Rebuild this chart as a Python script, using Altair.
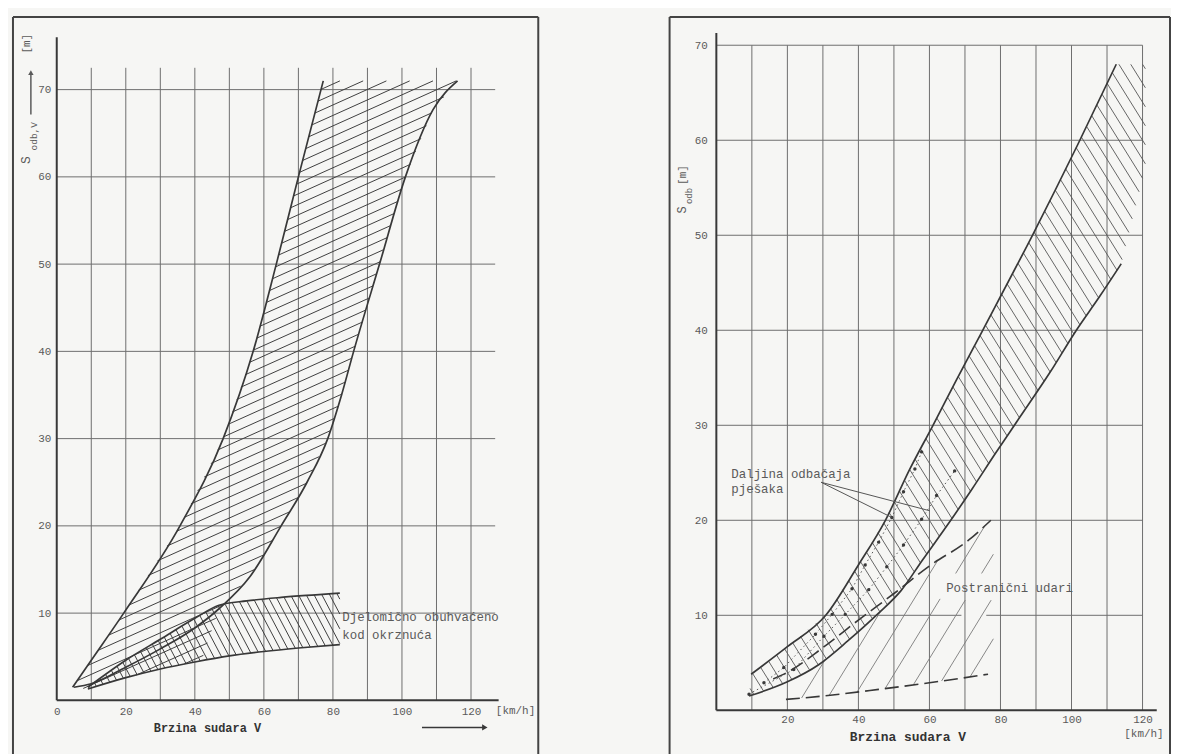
import altair as alt
import numpy as np
import pandas as pd

# ---------------- LEFT CHART DATA ----------------
L_grid_x = [10, 20, 30, 40, 50, 60, 70, 80, 90, 100, 110, 120]
L_grid_y = [10, 20, 30, 40, 50, 60, 70]
L_xticks = [0, 20, 40, 60, 80, 100, 120]
L_yticks = [10, 20, 30, 40, 50, 60, 70]

# main band (hatched "/"): steep left boundary and right boundary
L_band_left_x = [4.6, 10, 19.4, 35.7, 48.2, 56.9, 63.6, 70.0, 77.2]
L_band_left_y = [1.5, 4.6, 10.0, 20.0, 30.0, 40.0, 50.0, 60.0, 71.0]
L_band_right_x = [5, 10, 20, 30, 40, 47, 56, 65, 72.5, 78.5, 82.5, 86, 93.5, 101, 109, 116.1]
L_band_right_y = [1.5, 1.9, 3.8, 5.9, 8.3, 10.5, 14.2, 20, 25, 30, 35, 40, 50, 60, 67.7, 71]
L_band_top = 71.0
# lower limit of the "/" hatching (it covers the overlap with the lower band = cross-hatch)
L_cross_x = [5, 9, 20, 30, 42, 47]
L_cross_y = [1.5, 1.3, 2.6, 3.6, 4.6, 10.5]

# "Djelomicno obuhvaceno kod okrznuca" band (hatched "\")
L_part_top_x = [9, 20, 30, 40, 47, 55, 65, 75, 82]
L_part_top_y = [1.5, 4.6, 7.0, 9.4, 10.9, 11.4, 11.8, 12.1, 12.3]
L_part_bot_x = [9, 20, 30, 40, 50, 60, 70, 82]
L_part_bot_y = [1.3, 2.6, 3.6, 4.4, 5.1, 5.6, 6.0, 6.4]

# ---------------- RIGHT CHART DATA ----------------
R_grid_x = [10, 20, 30, 40, 50, 60, 70, 80, 90, 100, 110, 120]
R_grid_y = [20, 30, 40, 50, 60, 70]
R_grid10_x = [0, 76]          # the 10 m line is interrupted between 69 and 76 km/h
R_grid10_x2 = [69, 120]
R_xticks = [20, 40, 60, 80, 100, 120]
R_yticks = [10, 20, 30, 40, 50, 60, 70]

R_upper_x = [9.8, 20, 30.8, 40, 47.6, 54.5, 61, 67.5, 75, 89, 101.7, 112.6]
R_upper_y = [3.8, 6.7, 10.0, 15.3, 20.0, 25.4, 30.0, 34.7, 40.0, 50.0, 59.5, 68.0]
R_lower_x = [9.2, 20, 28.8, 37, 45.6, 52, 58, 66, 72, 78.5, 85, 94, 101, 108, 114]
R_lower_y = [1.5, 3.0, 4.8, 7.3, 10.2, 12.6, 15.8, 20.0, 23.3, 27.0, 30.6, 35.6, 39.8, 43.6, 47.0]
R_hatch_end_x = [114, 121]
R_hatch_end_y = [47.0, 57.5]

# "Postranicni udari" (dashed boundaries)
R_side_top_x = [16, 20, 30, 40, 50.4, 60, 71, 77.3]
R_side_top_y = [3.3, 4.0, 6.6, 9.5, 12.4, 15.2, 17.9, 20.0]
R_side_bot_x = [19.6, 30, 45.7, 60, 76.5]
R_side_bot_y = [1.15, 1.5, 2.2, 2.9, 3.8]

# "Daljina odbacaja pjesaka" dotted series
R_dot1_x = [13.4, 19.0, 27.9, 32.6, 38.2, 41.9, 45.7, 49.4, 52.7, 55.9, 57.8]
R_dot1_y = [2.9, 4.5, 8.0, 10.1, 12.8, 15.3, 17.7, 20.3, 23.0, 25.4, 27.2]
R_dot2_x = [9.2, 21.8, 30.3, 36.3, 42.9, 48.0, 52.7, 57.8, 62.0, 67.1]
R_dot2_y = [1.7, 4.3, 7.8, 10.1, 12.7, 15.1, 17.4, 20.1, 22.6, 25.2]
R_leader_x = [29.5, 29.5]
R_leader_y = [24.0, 24.0]
R_leader_x2 = [49.4, 60.1]
R_leader_y2 = [20.3, 21.0]

# ---------------- STYLE / LAYOUT ----------------
BG = "#f6f6f4"
INK = "#383838"
GRID = "#6e6e6e"
LBL = "#5a5a5a"
MONO = "Liberation Mono"

LW, LH = 528, 722
L_X0, L_Y0, L_KX, L_KY = 44, 687, 3.47, 8.77
RW, RH = 503, 722
R_X0, R_Y0, R_KX, R_KY = 47, 697, 3.57, 9.55


def hatch(lo_fn, hi_fn, slope, step, x_from, x_to, skip=None, n=5000):
    xs = np.linspace(x_from, x_to, n)
    lo = lo_fn(xs)
    hi = hi_fn(xs)
    c0 = np.floor((lo - slope * xs).min() / step) * step
    c1 = (hi - slope * xs).max() + step
    rows = []
    for c in np.arange(c0, c1, step):
        ys = slope * xs + c
        ins = (ys >= lo) & (ys <= hi)
        if skip is not None:
            ins &= ~((xs > skip[0]) & (xs < skip[1]) & (ys > skip[2]) & (ys < skip[3]))
        if not ins.any():
            continue
        edges = np.diff(np.concatenate([[0], ins.astype(int), [0]]))
        starts = np.where(edges == 1)[0]
        ends = np.where(edges == -1)[0] - 1
        for s, e in zip(starts, ends):
            if e > s:
                rows.append(dict(x=xs[s], y=ys[s], x2=xs[e], y2=ys[e]))
    return pd.DataFrame(rows)


def curve(xs, ys):
    return pd.DataFrame({"x": xs, "y": ys, "i": range(len(xs))})


ONE = pd.DataFrame({"a": [0]})


def frame(W, H):
    base = alt.Chart(ONE)
    s = dict(color="#444444", strokeWidth=2)
    return [
        base.mark_rule(**s).encode(x=alt.value(0), y=alt.value(0), y2=alt.value(H + 20)),
        base.mark_rule(**s).encode(x=alt.value(0), x2=alt.value(W), y=alt.value(0)),
        base.mark_rule(**s).encode(x=alt.value(W), y=alt.value(0), y2=alt.value(H + 20)),
    ]


def txt(df, **kw):
    opts = dict(font=MONO, fontSize=12, color=LBL, align="left", baseline="middle")
    opts.update(kw)
    return alt.Chart(df).mark_text(**opts)


# ================= LEFT PANEL =================
lsx = alt.Scale(domain=[-L_X0 / L_KX, (LW - L_X0) / L_KX], nice=False, zero=False)
lsy = alt.Scale(domain=[-(LH - L_Y0) / L_KY, L_Y0 / L_KY], nice=False, zero=False)
lax = alt.Axis(values=L_xticks, domain=False, ticks=False, grid=False, labelPadding=5,
               offset=-(LH - L_Y0), format="d", title="Brzina sudara  V",
               titleFont=MONO, titleFontSize=12, titleFontWeight="bold", titleColor="#333333",
               titleX=195, titleY=27, titleBaseline="middle", titleAlign="center")
lay = alt.Axis(values=L_yticks, domain=False, ticks=False, grid=False, labelPadding=6,
               offset=-L_X0, format="d", title=None)


def LX(f="x"):
    return alt.X(f, type="quantitative", scale=lsx, axis=lax)


def LY(f="y"):
    return alt.Y(f, type="quantitative", scale=lsy, axis=lay)


l_layers = []
l_layers.append(alt.Chart(pd.DataFrame({"x": L_grid_x, "y": 0.0, "y2": 72.5}))
                .mark_rule(color=GRID, strokeWidth=1).encode(x=LX(), y=LY(), y2="y2"))
l_layers.append(alt.Chart(pd.DataFrame({"y": L_grid_y, "x": 0.0, "x2": 127.0}))
                .mark_rule(color=GRID, strokeWidth=1).encode(y=LY(), x=LX(), x2="x2"))
l_layers.append(alt.Chart(pd.DataFrame({"x": [0.0], "y": [0.0], "y2": [76.0]}))
                .mark_rule(color=INK, strokeWidth=2).encode(x=LX(), y=LY(), y2="y2"))
l_layers.append(alt.Chart(pd.DataFrame({"x": [0.0], "x2": [128.0], "y": [0.0]}))
                .mark_rule(color=INK, strokeWidth=2).encode(x=LX(), x2="x2", y=LY()))


def main_lo(xs):
    lo = np.interp(xs, L_band_right_x, L_band_right_y)
    cr = np.where(xs <= L_cross_x[-1], np.interp(xs, L_cross_x, L_cross_y), np.inf)
    return np.minimum(lo, cr)


# hatching
h_main_L = hatch(main_lo,
                 lambda xs: np.minimum(np.interp(xs, L_band_left_x, L_band_left_y), L_band_top),
                 0.178, 1.2, 4.6, 116.1)
h_part_L = hatch(lambda xs: np.interp(xs, L_part_bot_x, L_part_bot_y),
                 lambda xs: np.interp(xs, L_part_top_x, L_part_top_y),
                 -0.75, 1.7, 9.0, 82.0)
for h in (h_main_L, h_part_L):
    l_layers.append(alt.Chart(h).mark_rule(color="#3e3e3e", strokeWidth=1)
                    .encode(x=LX(), y=LY(), x2="x2", y2="y2"))

for xs, ys in ((L_band_left_x, L_band_left_y), (L_band_right_x, L_band_right_y),
               (L_part_top_x, L_part_top_y), (L_part_bot_x, L_part_bot_y)):
    l_layers.append(alt.Chart(curve(xs, ys)).mark_line(color=INK, strokeWidth=1.7, interpolate="monotone")
                    .encode(x=LX(), y=LY(), order="i"))

l_layers.append(txt(pd.DataFrame({"x": [82.7, 82.7], "y": [9.5, 7.5],
                                  "t": ["Djelomično obuhvaćeno", "kod okrznuća"]}), fontSize=12.5)
                .encode(x=LX(), y=LY(), text="t"))
l_layers.append(txt(pd.DataFrame({"x": [132.9], "y": [-1.25], "t": ["[km/h]"]}), align="center", fontSize=11)
                .encode(x=LX(), y=LY(), text="t"))
# arrow under the x axis
l_layers.append(alt.Chart(pd.DataFrame({"x": [105.8], "x2": [123.5], "y": [-3.1]}))
                .mark_rule(color=INK, strokeWidth=1.5).encode(x=LX(), x2="x2", y=LY()))
l_layers.append(alt.Chart(pd.DataFrame({"x": [124.0], "y": [-3.1]}))
                .mark_point(shape="triangle-right", filled=True, size=40, color=INK, opacity=1)
                .encode(x=LX(), y=LY()))
# y title (S_odb,V -> [m]) as rotated pieces
l_layers.append(alt.Chart(ONE).mark_text(text="S", font=MONO, fontSize=13, color=LBL, angle=270,
                                         align="center", baseline="middle")
                .encode(x=alt.value(13), y=alt.value(144)))
l_layers.append(alt.Chart(ONE).mark_text(text="odb,V", font=MONO, fontSize=9.5, color=LBL, angle=270,
                                         align="center", baseline="middle")
                .encode(x=alt.value(21), y=alt.value(120)))
l_layers.append(alt.Chart(ONE).mark_rule(color=LBL, strokeWidth=1.5)
                .encode(x=alt.value(18), y=alt.value(98), y2=alt.value(57)))
l_layers.append(alt.Chart(ONE).mark_point(shape="triangle-up", filled=True, size=30, color=LBL, opacity=1)
                .encode(x=alt.value(18), y=alt.value(56)))
l_layers.append(alt.Chart(ONE).mark_text(text="[m]", font=MONO, fontSize=11, color=LBL, angle=270,
                                         align="center", baseline="middle")
                .encode(x=alt.value(14), y=alt.value(27)))
l_layers += frame(LW, LH)

left = alt.layer(*l_layers).properties(width=LW, height=LH)

# ================= RIGHT PANEL =================
rsx = alt.Scale(domain=[-R_X0 / R_KX, (RW - R_X0) / R_KX], nice=False, zero=False)
rsy = alt.Scale(domain=[-(RH - R_Y0) / R_KY, R_Y0 / R_KY], nice=False, zero=False)
rax = alt.Axis(values=R_xticks, domain=False, ticks=False, grid=False, labelPadding=3,
               offset=-(RH - R_Y0), format="d", title="Brzina  sudara V",
               titleFont=MONO, titleFontSize=13, titleFontWeight="bold", titleColor="#333333",
               titleX=239, titleY=26, titleBaseline="middle", titleAlign="center")
ray = alt.Axis(values=R_yticks, domain=False, ticks=False, grid=False, labelPadding=9,
               offset=-R_X0, format="d", title=None)


def RX(f="x"):
    return alt.X(f, type="quantitative", scale=rsx, axis=rax)


def RY(f="y"):
    return alt.Y(f, type="quantitative", scale=rsy, axis=ray)


r_layers = []
r_layers.append(alt.Chart(pd.DataFrame({"x": R_grid_x, "y": 0.0, "y2": 70.0}))
                .mark_rule(color=GRID, strokeWidth=1).encode(x=RX(), y=RY(), y2="y2"))
r_layers.append(alt.Chart(pd.DataFrame({"y": R_grid_y, "x": 0.0, "x2": 120.0}))
                .mark_rule(color=GRID, strokeWidth=1).encode(y=RY(), x=RX(), x2="x2"))
r_layers.append(alt.Chart(pd.DataFrame({"y": 10.0, "x": R_grid10_x, "x2": R_grid10_x2}))
                .mark_rule(color=GRID, strokeWidth=1).encode(y=RY(), x=RX(), x2="x2"))
r_layers.append(alt.Chart(pd.DataFrame({"x": [0.0], "y": [0.0], "y2": [71.3]}))
                .mark_rule(color=INK, strokeWidth=2).encode(x=RX(), y=RY(), y2="y2"))
r_layers.append(alt.Chart(pd.DataFrame({"x": [0.0], "x2": [124.0], "y": [0.0]}))
                .mark_rule(color=INK, strokeWidth=2).encode(x=RX(), x2="x2", y=RY()))

lo_ext_x = R_lower_x + R_hatch_end_x[1:]
lo_ext_y = R_lower_y + R_hatch_end_y[1:]
h_main_R = hatch(lambda xs: np.interp(xs, lo_ext_x, lo_ext_y),
                 lambda xs: np.interp(xs, R_upper_x, R_upper_y),
                 -0.6, 2.0, 9.5, 120.8)
h_side_R = hatch(lambda xs: np.interp(xs, R_side_bot_x, R_side_bot_y),
                 lambda xs: np.minimum(np.interp(xs, R_lower_x, R_lower_y),
                                       np.interp(xs, R_side_top_x, R_side_top_y)),
                 0.61, 4.45, 20.0, 78.0, skip=(63, 79, 11.6, 14.4))
r_layers.append(alt.Chart(h_main_R).mark_rule(color="#555555", strokeWidth=0.9)
                .encode(x=RX(), y=RY(), x2="x2", y2="y2"))
r_layers.append(alt.Chart(h_side_R).mark_rule(color="#7a7a7a", strokeWidth=0.9)
                .encode(x=RX(), y=RY(), x2="x2", y2="y2"))

for xs, ys in ((R_upper_x, R_upper_y), (R_lower_x, R_lower_y)):
    r_layers.append(alt.Chart(curve(xs, ys)).mark_line(color=INK, strokeWidth=1.7, interpolate="monotone")
                    .encode(x=RX(), y=RY(), order="i"))
r_layers.append(alt.Chart(curve(R_side_top_x, R_side_top_y))
                .mark_line(color=INK, strokeWidth=1.6, strokeDash=[14, 6], interpolate="monotone")
                .encode(x=RX(), y=RY(), order="i"))
r_layers.append(alt.Chart(curve(R_side_bot_x, R_side_bot_y))
                .mark_line(color=INK, strokeWidth=1.6, strokeDash=[14, 6], interpolate="monotone")
                .encode(x=RX(), y=RY(), order="i"))
for xs, ys in ((R_dot1_x, R_dot1_y), (R_dot2_x, R_dot2_y)):
    r_layers.append(alt.Chart(curve(xs, ys))
                    .mark_line(color="#555555", strokeWidth=1, strokeDash=[1.5, 3])
                    .encode(x=RX(), y=RY(), order="i"))
    r_layers.append(alt.Chart(curve(xs, ys)).mark_circle(color="#3a3a3a", size=12, opacity=1)
                    .encode(x=RX(), y=RY()))
r_layers.append(alt.Chart(pd.DataFrame({"x": R_leader_x, "y": R_leader_y,
                                        "x2": R_leader_x2, "y2": R_leader_y2}))
                .mark_rule(color="#555555", strokeWidth=1).encode(x=RX(), y=RY(), x2="x2", y2="y2"))

r_layers.append(txt(pd.DataFrame({"x": [4.2, 4.2], "y": [24.9, 23.3],
                                  "t": ["Daljina odbačaja", "pješaka"]}), fontSize=12.5)
                .encode(x=RX(), y=RY(), text="t"))
r_layers.append(txt(pd.DataFrame({"x": [64.7], "y": [12.9], "t": ["Postranični udari"]}), fontSize=12.5)
                .encode(x=RX(), y=RY(), text="t"))
r_layers.append(txt(pd.DataFrame({"x": [120.4], "y": [-2.5], "t": ["[km/h]"]}), align="center", fontSize=11)
                .encode(x=RX(), y=RY(), text="t"))
r_layers.append(alt.Chart(ONE).mark_text(text="S", font=MONO, fontSize=12, color=LBL, angle=270,
                                         align="center", baseline="middle")
                .encode(x=alt.value(13), y=alt.value(194)))
r_layers.append(alt.Chart(ONE).mark_text(text="odb", font=MONO, fontSize=9, color=LBL, angle=270,
                                         align="center", baseline="middle")
                .encode(x=alt.value(20), y=alt.value(180)))
r_layers.append(alt.Chart(ONE).mark_text(text="[m]", font=MONO, fontSize=11, color=LBL, angle=270,
                                         align="center", baseline="middle")
                .encode(x=alt.value(13), y=alt.value(159)))
r_layers += frame(RW, RH)

right = alt.layer(*r_layers).properties(width=RW, height=RH)

chart = (alt.hconcat(left, right, spacing=130)
         .properties(padding={"left": 4, "top": 6, "right": 0, "bottom": 0}, background=BG)
         .configure_view(stroke=None)
         .configure_axis(labelFont=MONO, labelColor=LBL, labelFontSize=11))

chart.save("out.html", embed_options={"renderer": "svg", "actions": False})
